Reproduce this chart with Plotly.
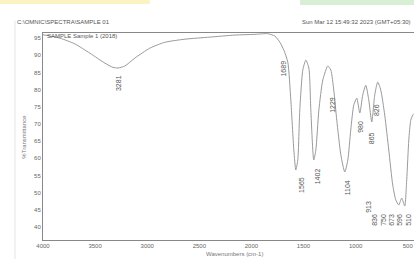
import plotly.graph_objects as go

# Spectrum data (wavenumber cm-1, %Transmittance)
wavenumber = [4000, 3837, 3693, 3549, 3405, 3329, 3281, 3214, 3118, 2974, 2830, 2638,
              2399, 2159, 1967, 1843, 1775, 1727, 1689, 1651, 1622, 1593, 1574, 1555,
              1536, 1507, 1478, 1449, 1430, 1402, 1382, 1353, 1315, 1267, 1238, 1210,
              1181, 1142, 1104, 1075, 1047, 1018, 989, 960, 932, 903, 874, 845, 817,
              788, 759, 721, 682, 644, 615, 586, 558, 529, 510, 490, 471, 452, 440]
transmittance = [96.0, 95.0, 93.3, 90.6, 87.7, 86.5, 86.3, 86.9, 89.2, 92.1, 93.8, 94.7,
                 95.3, 95.9, 96.1, 96.3, 95.6, 93.8, 91.5, 88.0, 77.0, 62.4, 56.6, 59.5,
                 74.0, 85.7, 88.6, 86.3, 74.0, 59.5, 62.4, 74.0, 82.8, 86.9, 85.7, 79.9,
                 71.1, 61.0, 56.0, 59.5, 68.2, 75.5, 77.5, 73.2, 78.4, 81.3, 77.0, 70.6, 78.4,
                 82.2, 79.9, 72.6, 62.4, 52.2, 47.9, 46.4, 48.4, 46.1, 53.7, 65.3, 71.1, 72.6, 73.0]

# Peak labels
peak_text = ["3281", "1689", "1565", "1402", "1229", "1104", "980", "826", "865", "913",
             "836", "750", "673", "596", "510"]
peak_x = [3281, 1689, 1526, 1363, 1229, 1075, 960, 806, 845, 884, 826, 740, 663, 586, 500]
peak_y = [81.9, 86.1, 52.2, 54.7, 75.5, 51.5, 69.1, 74.0, 65.8, 45.8, 42.0, 42.0, 42.0, 42.0, 42.0]

x_ticks = [4000, 3500, 3000, 2500, 2000, 1500, 1000, 500]
y_ticks = [95, 90, 85, 80, 75, 70, 65, 60, 55, 50, 45, 40]

FONT = "Liberation Sans, Arial, sans-serif"

fig = go.Figure()
fig.add_trace(go.Scatter(x=wavenumber, y=transmittance, mode="lines",
                         line=dict(color="#9a9a9a", width=1, shape="spline", smoothing=0.6),
                         hoverinfo="skip", showlegend=False))

for t, xv, yv in zip(peak_text, peak_x, peak_y):
    fig.add_annotation(x=xv, y=yv, text=t, textangle=-90, showarrow=False,
                       font=dict(family=FONT, size=7, color="#555555"))

axis_common = dict(showline=True, linecolor="#888888", linewidth=1, mirror=True,
                   showgrid=False, zeroline=False, ticks="",
                   tickfont=dict(family=FONT, size=6, color="#666666"))

fig.update_layout(
    width=414, height=259,
    margin=dict(l=43, r=0, t=33, b=19),
    paper_bgcolor="white", plot_bgcolor="white",
    xaxis=dict(range=[4000, 440], tickvals=x_ticks, ticktext=[str(v) for v in x_ticks], **axis_common),
    yaxis=dict(range=[36.2, 96.5], tickvals=y_ticks, ticktext=[str(v) for v in y_ticks], **axis_common),
    showlegend=False,
)

# Axis titles and header texts
fig.add_annotation(xref="paper", yref="paper", x=-0.067, y=0.5, text="%Transmittance",
                   textangle=-90, showarrow=False, font=dict(family=FONT, size=6, color="#777777"))
fig.add_annotation(xref="paper", yref="paper", x=0.5175, y=-0.0918, yanchor="bottom",
                   text="Wavenumbers (cm-1)", showarrow=False,
                   font=dict(family=FONT, size=6, color="#777777"))
fig.add_annotation(xref="paper", yref="paper", x=-0.0755, y=1.077, xanchor="left",
                   text="C:\\OMNIC\\SPECTRA\\SAMPLE 01", showarrow=False,
                   font=dict(family=FONT, size=6, color="#555555"))
fig.add_annotation(xref="paper", yref="paper", x=0.997, y=1.077, xanchor="right",
                   text="Sun Mar 12 15:49:32 2023 (GMT+05:30)", showarrow=False,
                   font=dict(family=FONT, size=6, color="#555555"))
fig.add_annotation(xref="paper", yref="paper", x=0.006, y=1.012, xanchor="left",
                   text="SAMPLE Sample 1 (2018)", showarrow=False,
                   font=dict(family=FONT, size=6, color="#555555"))

# Page decorations: faint page border and coloured top bands
fig.add_shape(type="line", xref="paper", yref="paper", x0=-0.0755, x1=-0.0755, y0=-0.1, y1=1.06,
              line=dict(color="#e4e4e4", width=1))
fig.add_shape(type="rect", xref="paper", yref="paper", x0=-0.116, x1=0.288, y0=1.140, y1=1.16,
              fillcolor="#fbf3c4", line=dict(width=0), layer="below")
fig.add_shape(type="rect", xref="paper", yref="paper", x0=0.693, x1=1.0, y0=1.135, y1=1.16,
              fillcolor="#d8efd6", line=dict(width=0), layer="below")

# Remove the default 8px page margin so the 414x259 figure fills the window exactly
fig.write_html("out.html",
               config={"displayModeBar": False},
               post_script="document.body.style.margin='0';document.body.style.overflow='hidden';")
